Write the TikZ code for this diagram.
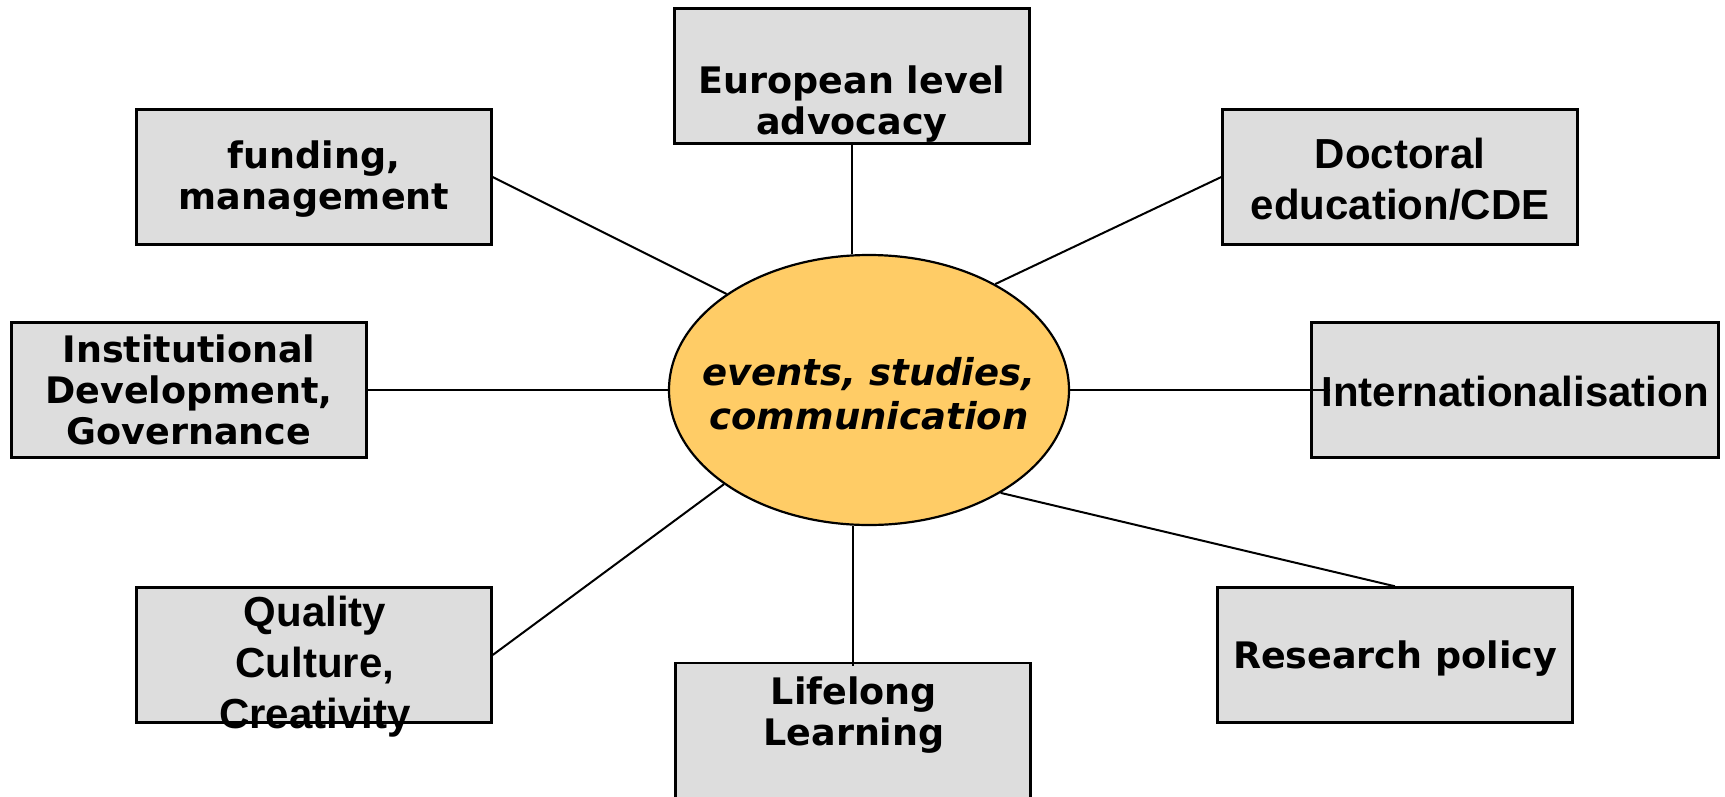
\documentclass[tikz,border=0pt]{standalone}
\usepackage{fontspec}
\newfontfamily\verdfont{DejaVu Sans}
\newfontfamily\arialfont{Liberation Sans}
\usetikzlibrary{positioning, shapes.geometric}
\definecolor{boxgray}{HTML}{DDDDDD}
\definecolor{hubfill}{HTML}{FFCC66}
\tikzset{topic/.style={draw, line width=2.4pt, fill=boxgray, inner sep=0pt, minimum width=355pt, minimum height=135pt}}
\tikzset{vtext/.style={font=\verdfont\bfseries\fontsize{36.5}{41}\selectfont, align=center, inner sep=0pt}}
\tikzset{atext/.style={font=\arialfont\bfseries\fontsize{42}{51}\selectfont, align=center, inner sep=0pt}}
\tikzset{htext/.style={font=\verdfont\bfseries\itshape\fontsize{37}{44}\selectfont, align=center, inner sep=0pt}}
\tikzset{hub/.style={ellipse, draw, line width=2.2pt, fill=hubfill, inner sep=0pt, minimum width=400pt, minimum height=270pt}}
\tikzset{spoke/.style={draw, line width=2pt}}

\begin{document}
\begin{tikzpicture}[x=1pt, y=-1pt]
	\useasboundingbox (0,0) rectangle (1725,796);
	% centre
	\node[hub] (hub) at (869,390) {};
	\node[htext] (hub-t) at (869,394) {events, studies,\\communication};
	% topics round it
	\node[topic] (eur) at (852,76) {};
	\node[vtext] (eur-t) at (852,104) {European level\\advocacy};
	\node[topic] (fund) at (314,177) {};
	\node[vtext] (fund-t) at (314,179) {funding,\\management};
	\node[topic] (doc) at (1400,177) {};
	\node[atext] (doc-t) at (1400,179) {Doctoral\\education/CDE};
	\node[topic] (inst) at (189,390) {};
	\node[vtext] (inst-t) at (189,390) {Institutional\\Development,\\Governance};
	\node[topic, minimum width=407pt] (intl) at (1515,390) {};
	\node[atext] (intl-t) at (1515,391) {Internationalisation};
	\node[topic] (res) at (1395,655) {};
	\node[vtext] (res-t) at (1395,659) {Research policy};
	\node[topic] (qual) at (314,655) {};
	\node[atext] (qual-t) at (315,667) {Quality\\Culture,\\Creativity};
	\node[topic, minimum height=170pt] (life) at (853,748) {};
	\node[vtext] (life-t) at (854,715) {Lifelong\\Learning};
	% spokes
	\draw[spoke] (eur.south) -- (eur.south |- hub.north);
	\draw[spoke] (fund.east) -- (hub.146.7);
	\draw[spoke] (doc.west) -- (hub.40.5);
	\draw[spoke] (inst.east) -- (hub.west);
	\draw[spoke] ([xshift=20pt]intl.west) -- (hub.east);
	\draw[spoke] (res.north) -- (hub.322.8);
	\draw[spoke] (qual.east) -- (hub.213.6);
	\draw[spoke] ([yshift=-4pt]life.north) -- (life.north |- hub.south);
\end{tikzpicture}
\end{document}
